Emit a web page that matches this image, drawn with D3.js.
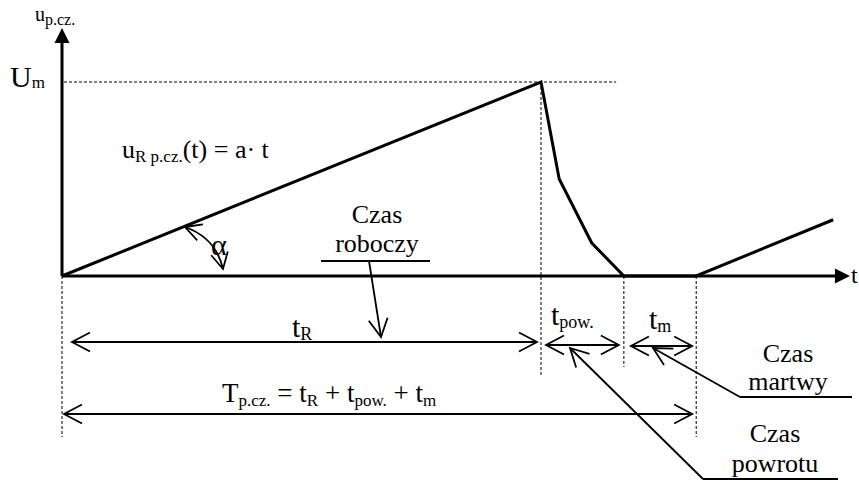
<!DOCTYPE html>
<html>
<head>
<meta charset="utf-8">
<script src="https://cdn.jsdelivr.net/npm/d3@7"></script>
<style>
  body { margin: 0; background: #fff; }
  svg { display: block; background: #fff; }
  text { font-family: "Liberation Serif", "Times New Roman", serif; fill: #000; }
</style>
</head>
<body>
<svg id="chart" width="859" height="482"></svg>
<script>
// Sawtooth sweep voltage: working ramp, flyback, dead time and the start of the next ramp.
// Time in percent of t_R, voltage as a fraction of U_m.
const sweepTime  = [0, 100, 103.8, 110.6, 117.3, 132.4, 161.0];
const sweepValue = [0, 1.00, 0.50, 0.17, 0.00, 0.00, 0.29];

// Phase boundaries: start of ramp, end of ramp, end of flyback, end of dead time
const phaseEdges = [0, 100, 117.3, 132.4];

// Axis extents
const timeMax = 164.5;
const valueMax = 1.278;
const peakValue = 1;

// Captions of the pointer callouts
const calloutLines = [["Czas", "roboczy"], ["Czas", "martwy"], ["Czas", "powrotu"]];

const svg = d3.select("#chart");
const x = d3.scaleLinear().domain([0, 100]).range([62, 541]);
const y = d3.scaleLinear().domain([0, 1]).range([276, 82]);

const ink = "#000";

// open V arrow head at (tx,ty), coming from (fx,fy)
function openHead(g, tx, ty, fx, fy, len = 18, half = 9.5, w = 1.8) {
  const dx = fx - tx, dy = fy - ty, d = Math.hypot(dx, dy);
  const ux = dx / d, uy = dy / d, px = -uy, py = ux;
  const p = d3.path();
  p.moveTo(tx + ux * len + px * half, ty + uy * len + py * half);
  p.lineTo(tx, ty);
  p.lineTo(tx + ux * len - px * half, ty + uy * len - py * half);
  g.append("path").attr("d", p.toString()).attr("fill", "none")
    .attr("stroke", ink).attr("stroke-width", w).attr("stroke-linejoin", "miter");
}

function line(g, x1, y1, x2, y2, w, dash) {
  const l = g.append("line").attr("x1", x1).attr("y1", y1).attr("x2", x2).attr("y2", y2)
    .attr("stroke", ink).attr("stroke-width", w);
  if (dash) l.attr("stroke-dasharray", dash);
  return l;
}

// text with subscripts: parts = [[string, isSub], ...]
function label(g, px, py, parts, size, subSize, shift, anchor = "start") {
  const t = g.append("text").attr("x", px).attr("y", py)
    .attr("font-size", size).attr("text-anchor", anchor);
  let down = 0;
  parts.forEach(([s, sub]) => {
    const target = sub ? shift : 0;
    t.append("tspan").attr("dy", target - down)
      .attr("font-size", sub ? subSize : size).text(s);
    down = target;
  });
  return t;
}

const g = svg.append("g");

// reference lines
line(g, x(0) + 2, y(peakValue), x(115.7), y(peakValue), 1, "3,2");
const dottedBottoms = [437, 377, 367, 437];
const dottedTops = [y(0), y(peakValue), y(0), y(0)];
phaseEdges.forEach((e, i) => line(g, x(e), dottedTops[i], x(e), dottedBottoms[i], 1, "3,2"));

// axes
line(g, x(0), y(0), x(0), y(valueMax) + 14, 3);
g.append("path").attr("fill", ink)
  .attr("d", `M${x(0)},${y(valueMax)} L${x(0) - 7.5},${y(valueMax) + 15} L${x(0) + 7.5},${y(valueMax) + 15} Z`);
line(g, x(0), y(0), x(timeMax) - 14, y(0), 3);
g.append("path").attr("fill", ink)
  .attr("d", `M${x(timeMax)},${y(0)} L${x(timeMax) - 15},${y(0) - 7.5} L${x(timeMax) - 15},${y(0) + 7.5} Z`);

// sweep waveform
const wave = d3.line().x(d => x(d[0])).y(d => y(d[1]));
g.append("path").datum(d3.zip(sweepTime, sweepValue))
  .attr("d", wave).attr("fill", "none").attr("stroke", ink)
  .attr("stroke-width", 3).attr("stroke-linejoin", "miter");

// slope angle arc
{
  const p0 = [185, 227], c = [216, 238], p2 = [223, 269];
  const p = d3.path();
  p.moveTo(p0[0], p0[1]);
  p.quadraticCurveTo(c[0], c[1], p2[0], p2[1]);
  g.append("path").attr("d", p.toString()).attr("fill", "none").attr("stroke", ink).attr("stroke-width", 1.8);
  openHead(g, p0[0], p0[1], c[0], c[1], 16, 8.5);
  openHead(g, p2[0], p2[1], c[0], c[1], 16, 8.5);
}

// dimension arrows
const dims = [
  { a: x(phaseEdges[0]) + 10, b: x(phaseEdges[1]) - 4, yy: 342 },
  { a: x(phaseEdges[1]) + 5,  b: x(phaseEdges[2]) - 5, yy: 345 },
  { a: x(phaseEdges[2]) + 7,  b: x(phaseEdges[3]) - 4, yy: 346 },
  { a: x(phaseEdges[0]) + 2,  b: x(phaseEdges[3]) - 4, yy: 414 }
];
dims.forEach(d => {
  line(g, d.a, d.yy, d.b, d.yy, 1.8);
  openHead(g, d.a, d.yy, d.b, d.yy);
  openHead(g, d.b, d.yy, d.a, d.yy);
});

// callouts: underline, pointer line and head
const callouts = [
  { ux1: 321, ux2: 430, uy: 261, from: [369, 261], tip: [381, 337], cx: 377, ty: [223, 252] },
  { ux1: 740, ux2: 852, uy: 397, from: [740, 397], tip: [653, 348], cx: 788, ty: [362, 390] },
  { ux1: 703, ux2: 838, uy: 479, from: [703, 479], tip: [570, 348], cx: 775, ty: [442, 472] }
];
callouts.forEach((c, i) => {
  line(g, c.ux1, c.uy, c.ux2, c.uy, 2);
  line(g, c.from[0], c.from[1], c.tip[0], c.tip[1], 1.8);
  openHead(g, c.tip[0], c.tip[1], c.from[0], c.from[1]);
  calloutLines[i].forEach((s, k) => {
    g.append("text").attr("x", c.cx).attr("y", c.ty[k]).attr("font-size", 26)
      .attr("text-anchor", "middle").text(s);
  });
});

// labels
label(g, 35, 21, [["u", false], ["p.cz.", true]], 20, 16, 4);
label(g, 10, 87, [["U", false], ["m", true]], 30, 17, 1);
label(g, 851, 283, [["t", false]], 24, 24, 0);
label(g, 122, 158, [["u", false], ["R p.cz.", true], ["(t) = a· t", false]], 26, 17, 4);
g.append("text").attr("x", 211).attr("y", 255).attr("font-size", 30).text("α");
label(g, 292, 337, [["t", false], ["R", true]], 30, 18, 3);
label(g, 551, 325, [["t", false], ["pow.", true]], 30, 18, 3);
label(g, 649, 329, [["t", false], ["m", true]], 30, 18, 3);
label(g, 222, 402, [["T", false], ["p.cz.", true], [" = t", false], ["R", true], [" + t", false],
                    ["pow.", true], [" + t", false], ["m", true]], 27, 17, 4);
</script>
</body>
</html>
